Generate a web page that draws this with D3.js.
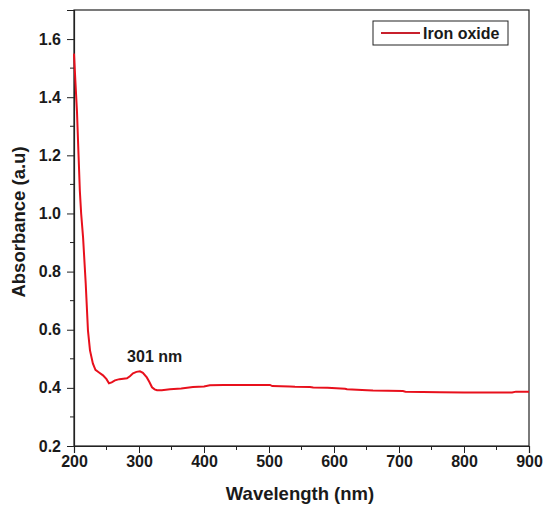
<!DOCTYPE html>
<html>
<head>
<meta charset="utf-8">
<script src="https://cdn.jsdelivr.net/npm/d3@7"></script>
<style>
body{margin:0;background:#fff;}
svg{display:block;}
text{font-family:"Liberation Sans",Arial,sans-serif;font-weight:bold;fill:#1a1a1a;}
</style>
</head>
<body>
<div id="chart"></div>
<script>
const wavelength = [200,202,204.6,207,209,211,214,218,221.5,224.6,229,233,238.5,244.6,250,253.8,258,263,270,281.5,286,290.8,296,301.5,306,312,316,320,324,327.7,335,347.7,365,383,400,409,430,460,501.5,505,532,540,563,568,590,617,620,651,660,706,710,763,800,850,874,880,900];
const absorbance = [1.55,1.46,1.35,1.2,1.077,1.0,0.916,0.76,0.597,0.529,0.484,0.462,0.453,0.443,0.43,0.416,0.419,0.426,0.43,0.433,0.44,0.45,0.455,0.457,0.452,0.436,0.42,0.402,0.395,0.392,0.392,0.395,0.398,0.403,0.405,0.409,0.41,0.41,0.41,0.406,0.405,0.404,0.403,0.401,0.400,0.397,0.395,0.392,0.391,0.389,0.387,0.385,0.384,0.384,0.384,0.387,0.387];
const xTicks = [200,300,400,500,600,700,800,900];
const yTicks = [0.2,0.4,0.6,0.8,1.0,1.2,1.4,1.6];
const xMinor = [250,350,450,550,650,750,850];
const yMinor = [0.3,0.5,0.7,0.9,1.1,1.3,1.5];
const seriesName = "Iron oxide";
const peakLabel = "301 nm";
const peakAt = 301;

const W = 544, H = 507;
const m = {left:74, right:15, top:10, bottom:61};
const svg = d3.select("#chart").append("svg").attr("width",W).attr("height",H);

const x = d3.scaleLinear().domain([200,900]).range([m.left, W-m.right]);
const y = d3.scaleLinear().domain([0.2,1.7]).range([H-m.bottom, m.top]);

// frame
svg.append("rect").attr("x",m.left).attr("y",m.top)
  .attr("width",W-m.right-m.left).attr("height",H-m.bottom-m.top)
  .attr("fill","none").attr("stroke","#222").attr("stroke-width",1.2);

const gx = svg.append("g").attr("transform",`translate(0,${H-m.bottom})`);
gx.call(d3.axisBottom(x).tickValues(xTicks).tickFormat(d3.format("d")).tickSize(7).tickPadding(3));
gx.selectAll(".minor").data(xMinor).enter().append("line")
  .attr("x1",d=>x(d)).attr("x2",d=>x(d)).attr("y1",0).attr("y2",4).attr("stroke","#222");
const gy = svg.append("g").attr("transform",`translate(${m.left},0)`);
gy.call(d3.axisLeft(y).tickValues(yTicks).tickFormat(d3.format(".1f")).tickSize(7).tickPadding(6));
gy.selectAll(".minor").data(yMinor).enter().append("line")
  .attr("y1",d=>y(d)).attr("y2",d=>y(d)).attr("x1",0).attr("x2",-4).attr("stroke","#222");
svg.selectAll(".domain").attr("stroke","#222").attr("stroke-width",1.2);
svg.selectAll(".tick line").attr("stroke","#222");
svg.selectAll(".tick text").style("font-size","16px").style("font-weight","bold")
  .style("font-family","'Liberation Sans',Arial,sans-serif").attr("fill","#1a1a1a");

// line
const pts = wavelength.map((w,i)=>[w,absorbance[i]]);
svg.append("path").datum(pts)
  .attr("d", d3.line().x(d=>x(d[0])).y(d=>y(d[1])))
  .attr("fill","none").attr("stroke","#e8101c").attr("stroke-width",2);

// annotation
svg.append("text").attr("x",x(peakAt)+15).attr("y",362).attr("text-anchor","middle")
  .style("font-size","16px").text(peakLabel);

// axis titles
svg.append("text").attr("x",300).attr("y",500).attr("text-anchor","middle")
  .style("font-size","18.5px").text("Wavelength (nm)");
svg.append("text").attr("transform","translate(25,222) rotate(-90)").attr("text-anchor","middle")
  .style("font-size","18.5px").text("Absorbance (a.u)");

// legend
const lg = svg.append("g");
lg.append("rect").attr("x",373).attr("y",21).attr("width",135).attr("height",24)
  .attr("fill","#fff").attr("stroke","#222").attr("stroke-width",1);
lg.append("line").attr("x1",381).attr("x2",420).attr("y1",33).attr("y2",33)
  .attr("stroke","#c8202c").attr("stroke-width",2);
lg.append("text").attr("x",423).attr("y",39).style("font-size","16px").text(seriesName);
</script>
</body>
</html>
